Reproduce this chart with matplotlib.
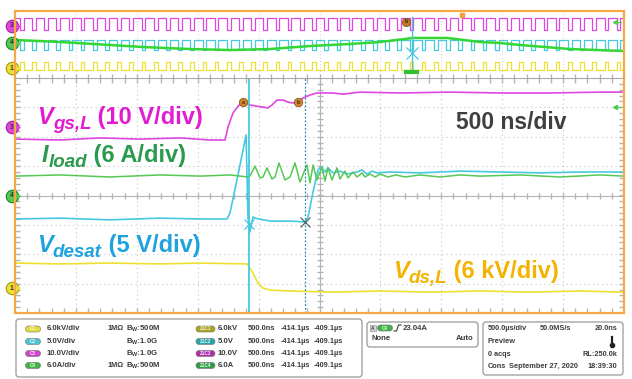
import numpy as np
import matplotlib.pyplot as plt
from matplotlib.patches import FancyBboxPatch, Rectangle

plt.rcParams['font.family'] = ['Liberation Sans', 'DejaVu Sans']
plt.rcParams['font.weight'] = 'bold'
plt.rcParams['mathtext.fontset'] = 'custom'
plt.rcParams['mathtext.rm'] = 'Liberation Sans:bold'
plt.rcParams['mathtext.it'] = 'Liberation Sans:italic:bold'
plt.rcParams['mathtext.bf'] = 'Liberation Sans:bold'

# zoom window, 500 ns/div, levels in screen divisions
vgs_t = [0, 369, 698, 1026, 1355, 1601, 1724, 1749, 1790, 1831, 1872, 1929, 1987,
         2036, 2077, 2110, 2151, 2200, 2241, 2282, 2323, 2364, 2422, 2479, 2611,
         2693, 2832, 3161, 3571, 3982, 4392, 4803, 5000]
vgs_div = [1.92, 1.89, 1.96, 1.92, 1.96, 1.89, 1.89, 2.33, 2.81, 3.04, 3.18, 3.08, 3.04,
           3.01, 2.98, 3.08, 3.25, 3.25, 3.18, 3.15, 3.18, 3.32, 3.42, 3.49, 3.49,
           3.45, 3.52, 3.49, 3.52, 3.49, 3.49, 3.52, 3.52]

iload_t = [0, 369, 780, 1191, 1519, 1765, 1913,
           1929, 1970, 2011, 2036, 2069, 2110, 2135, 2167, 2217, 2258,
           2299, 2340, 2373, 2397, 2422, 2447, 2479, 2521, 2545, 2570,
           2603, 2644, 2668, 2709, 2734, 2775, 2808, 2849, 2874, 2915,
           2956, 2997, 3062, 3128, 3202, 3325, 3489, 3654, 3818, 4146,
           4475, 4803, 5000]
iload_div = [0.66, 0.70, 0.63, 0.70, 0.66, 0.70, 0.63,
             0.66, 1.00, 0.60, 0.63, 0.94, 0.56, 0.63, 1.11, 0.53, 0.63,
             1.11, 0.46, 0.80, 1.04, 0.43, 1.04, 0.53, 0.97, 0.49, 0.94,
             0.53, 0.94, 0.56, 0.83, 0.60, 0.80, 0.63, 0.77, 0.63, 0.73,
             0.63, 0.73, 0.63, 0.70, 0.63, 0.70, 0.63, 0.70, 0.66, 0.70,
             0.63, 0.70, 0.66]

vdesat_t = [0, 369, 780, 1190, 1519, 1741, 1765, 1831, 1897, 1913, 1929, 1954, 1970,
            2094, 2258, 2381, 2406, 2447, 2488, 2512, 2545, 2570, 2611, 2668, 2726,
            2808, 2849, 2890, 2931, 2972, 3079, 3325, 3654, 3982, 4310, 4639, 5000]
vdesat_div = [-0.80, -0.77, -0.83, -0.77, -0.80, -0.80, -0.60, 0.70, 2.06, -0.77, -1.24,
              -0.73, -0.77, -0.87, -0.87, -0.90, -0.73, 0.12, 0.87, 0.97, 0.80, 0.94,
              0.77, 0.83, 0.73, 0.80, 0.87, 0.73, 0.83, 0.77, 0.80, 0.77, 0.83, 0.80,
              0.77, 0.80, 0.80]

vds_t = [0, 369, 780, 1190, 1519, 1905, 1954, 1995, 2036, 2094, 2258, 2586, 2997,
         3407, 3818, 4228, 4639, 5000]
vds_div = [-2.30, -2.33, -2.30, -2.33, -2.30, -2.33, -2.64, -2.98, -3.15, -3.22, -3.25,
           -3.29, -3.25, -3.29, -3.25, -3.29, -3.25, -3.29]

# cursors and a/b marks in the zoom window (ns)
cursor_a_ns = 1920
cursor_b_ns = 2380
mark_ab_t = [1872, 2323]
mark_ab_div = [3.18, 3.18]

# channel ground markers (div): Vgs, Iload, Vds
zoom_gnd = {'3': 2.33, '4': 0.0, '1': -3.15}
trig_level_div = 3.01

# record view, 500 us/div
rec_t = [0, 369, 780, 1051, 1437, 1765, 2094, 2422, 2750, 2997, 3268, 3547, 3818,
         3982, 4146, 4557, 5000]
rec_iload = [0.54, 0.30, -0.06, -0.30, -0.54, -0.66, -0.54, -0.18, 0.06, 0.30, 0.78,
             0.78, 0.30, 0.18, -0.06, -0.54, -0.78]
pwm_rise_us = [-30, 70, 170, 270, 370, 470, 570, 670, 770, 870,
               970, 1070, 1170, 1270, 1370, 1470, 1570, 1670, 1770, 1870,
               1970, 2070, 2170, 2270, 2370, 2470, 2570, 2670, 2770, 2870,
               2970, 3070, 3170, 3270, 3370, 3470, 3570, 3670, 3770, 3870,
               3970, 4070, 4170, 4270, 4370, 4470, 4570, 4670, 4770, 4870, 4970]
pwm_on_us = 70
rec_vgs_lvl = (1.73, 3.16)
rec_vdesat_lvl = (-0.66, 0.54)
rec_vds_lvl = (-3.04, -2.09)
rec_gnd = {'3': 2.21, '4': 0.18, '1': -2.81}
rec_zoom_us = 3259
rec_trig_us = 3670

# readout panel
chan_names = ['C1', 'C2', 'C3', 'C4']
chan_scale = ['6.0kV/div', '5.0V/div', '10.0V/div', '6.0A/div']
chan_term = ['1MΩ', '', '', '1MΩ']
chan_bw = ['500M', '1.0G', '1.0G', '500M']
zoom_names = ['Z1C1', 'Z1C2', 'Z1C3', 'Z1C4']
zoom_scale = ['6.0kV', '5.0V', '10.0V', '6.0A']
zoom_tdiv = '500.0ns'
zoom_pos = ['-414.1µs', '-409.1µs']

MAG, CYAN, GRN, YEL = '#E046E0', '#45C8E0', '#55C855', '#EEE030'
badge_col = ['#E4DC3A', '#4CC6D2', '#CF44CF', '#3FB43F']
badge_zcol = ['#ABA420', '#22A6A8', '#AE2EA8', '#2E9F40']
TXT = '#3C3C3C'

W, H = 632, 379
fig = plt.figure(figsize=(W / 100, H / 100), dpi=100)


def px_rect(x0, y0, x1, y1):
    return [x0 / W, 1 - y1 / H, (x1 - x0) / W, (y1 - y0) / H]


ax = fig.add_axes(px_rect(15, 78, 624, 313))
ax_rec = fig.add_axes(px_rect(15, 11, 624, 78))
ax_px = fig.add_axes([0, 0, 1, 1], zorder=5)
ax_px.set_xlim(0, W)
ax_px.set_ylim(H, 0)
ax_px.axis('off')
ax_px.patch.set_alpha(0)

GRID = '#C4C4C4'


def marker(a, x, y, num, col, edge, dx):
    a.plot([x], [y], 'o', ms=9, mfc=col, mec=edge, mew=0.8, clip_on=False, zorder=6)
    a.text(x, y, num, fontsize=5, ha='center', va='center', color='#333333',
           zorder=7, clip_on=False)
    a.plot([x + dx * 0.9, x + dx * 2.0], [y, y], color=col, lw=0.8, clip_on=False, zorder=6)
    a.plot([x + dx * 2.0], [y], '>', ms=2.5, color=col, clip_on=False, zorder=6)


# ---- zoom window ----
ax.set_xlim(0, 5000)
ax.set_ylim(-4, 4)
ax.axis('off')
for i in range(1, 10):
    if i != 5:
        ax.axvline(i * 500, color=GRID, lw=0.8, ls=(0, (1, 3)))
for j in range(-3, 4):
    if j != 0:
        ax.axhline(j, color=GRID, lw=0.8, ls=(0, (1, 3)))
ax.axvline(2500, color='#B4B4B4', lw=0.8)
ax.axhline(0, color='#B4B4B4', lw=0.8)
tx = np.arange(100, 5000, 100)
ty = np.arange(-3.8, 4.0, 0.2)
ax.plot(tx, np.zeros_like(tx), '|', ms=4, color='#B4B4B4')
ax.plot(np.full_like(ty, 2500), ty, '_', ms=4, color='#B4B4B4')
ax.plot(tx, np.full_like(tx, -4.0), '|', ms=7, color='#B4B4B4')
ax.plot(tx, np.full_like(tx, 4.0), '|', ms=7, color='#B4B4B4')
ax.plot(np.zeros_like(ty), ty, '_', ms=7, color='#B4B4B4')
ax.plot(np.full_like(ty, 5000), ty, '_', ms=7, color='#B4B4B4')

ax.axvline(cursor_a_ns, color=CYAN, lw=1.3, zorder=4)
ax.axvline(cursor_b_ns, color='#2B8CA8', lw=0.9, ls=(0, (1.5, 1.5)), zorder=4)

ax.plot(vds_t, vds_div, color=YEL, lw=1.2, zorder=3)
ax.plot(vgs_t, vgs_div, color=MAG, lw=1.2, zorder=3)
ax.plot(vdesat_t, vdesat_div, color=CYAN, lw=1.2, zorder=3)
ax.plot(iload_t, iload_div, color=GRN, lw=1.1, zorder=3)

ax.plot([cursor_a_ns], [np.interp(cursor_a_ns, vdesat_t, vdesat_div)], 'x', ms=7,
        mew=0.9, color=CYAN, zorder=5)
ax.plot([cursor_b_ns], [np.interp(cursor_b_ns, vdesat_t, vdesat_div)], 'x', ms=7,
        mew=0.9, color='#4A6A70', zorder=5)
for t, v, s in zip(mark_ab_t, mark_ab_div, 'ab'):
    ax.plot([t], [v], 'o', ms=6, mfc='#D2872E', mec='#8A5620', mew=0.6, zorder=6)
    ax.text(t, v, s, fontsize=4, ha='center', va='center', color='#4A2800', zorder=7)

marker(ax, -25, zoom_gnd['3'], '3', MAG, '#A020A0', 25)
marker(ax, -25, zoom_gnd['4'], '4', GRN, '#208020', 25)
marker(ax, -25, zoom_gnd['1'], '1', YEL, '#A09A10', 25)
ax.plot([4930, 4975], [trig_level_div, trig_level_div], color=GRN, lw=0.8, clip_on=False)
ax.plot([4930], [trig_level_div], '<', ms=3, color=GRN, clip_on=False)

# ---- record view ----
ax_rec.set_xlim(0, 5000)
ax_rec.set_ylim(-4, 4)
ax_rec.axis('off')
for i in range(1, 10):
    ax_rec.axvline(i * 500, color=GRID, lw=0.6, ls=(0, (1, 3)))
rx = np.arange(100, 5000, 100)
ax_rec.plot(rx, np.full_like(rx, -4.0), '|', ms=6, color='#B4B4B4')


def pwm(low, high):
    t, v = [], []
    for r in pwm_rise_us:
        t += [r, r, r + pwm_on_us, r + pwm_on_us]
        v += [low, high, high, low]
    return t, v


t_on, v_mag = pwm(*rec_vgs_lvl)
_, v_cy = pwm(*rec_vdesat_lvl)
_, v_yl = pwm(rec_vds_lvl[1], rec_vds_lvl[0])
ax_rec.plot(t_on, v_mag, color=MAG, lw=0.9)
ax_rec.plot(t_on, v_cy, color=CYAN, lw=0.9)
ax_rec.plot(t_on, v_yl, color=YEL, lw=0.9)
ax_rec.plot(rec_t, rec_iload, color='#33D633', lw=1.8)

ax_rec.plot([rec_zoom_us, rec_zoom_us], [-3.28, 3.28], color=CYAN, lw=1.0)
ax_rec.plot([rec_zoom_us], [-1.0], 'x', ms=9, mew=0.9, color=CYAN)
ax_rec.plot([rec_zoom_us - 45, rec_zoom_us + 45], [-3.3, -3.3], color='#30C030', lw=3)
ax_rec.plot([rec_trig_us], [3.55], 's', ms=3, color='#F0A040', clip_on=False)
ax_rec.plot([rec_zoom_us - 50], [2.69], 'o', ms=6, mfc='#C07A28', mec='#7A4A18', mew=0.5)
ax_rec.text(rec_zoom_us - 50, 2.69, 'b', fontsize=4, ha='center', va='center', color='#3A2000')

marker(ax_rec, -25, rec_gnd['3'], '3', MAG, '#A020A0', 25)
marker(ax_rec, -25, rec_gnd['4'], '4', GRN, '#208020', 25)
marker(ax_rec, -25, rec_gnd['1'], '1', YEL, '#A09A10', 25)
ax_rec.plot([4930, 4975], [2.69, 2.69], color=GRN, lw=0.8, clip_on=False)
ax_rec.plot([4930], [2.69], '<', ms=3, color=GRN, clip_on=False)

# ---- screen frame ----
ax_px.add_patch(Rectangle((15, 11), 609, 302, fill=False, ec='#F5A843', lw=1.6))
ax_px.plot([15, 624], [78, 78], color='#A8A8A8', lw=0.8)

# ---- trace labels, subscripts set a bit larger than mathtext would ----
renderer = fig.canvas.get_renderer()


def trace_label(x, y, sym, sub, rest, color):
    for s, size, style, dy in [(sym, 17, 'italic', 0), (sub, 13.5, 'italic', 5),
                               (rest, 17, 'normal', 0)]:
        t = ax_px.text(x, y + dy, s, fontsize=size, style=style, color=color,
                       va='baseline', zorder=8)
        x += t.get_window_extent(renderer).width


trace_label(37, 124, 'V', 'gs,L', ' (10 V/div)', '#E21CD2')
trace_label(42, 162, 'I', 'load', ' (6 A/div)', '#2A9A4E')
trace_label(37, 252, 'V', 'desat', ' (5 V/div)', '#1FA3DC')
trace_label(393, 278, 'V', 'ds,L', ' (6 kV/div)', '#F3B300')
ax_px.text(456, 129, '500 ns/div', fontsize=16.5, color='#3F3F3F', va='baseline', zorder=8)

# ---- readout panel ----
def box(x0, y0, x1, y1):
    ax_px.add_patch(FancyBboxPatch((x0, y0), x1 - x0, y1 - y0,
                                   boxstyle='round,pad=0,rounding_size=3',
                                   fc='white', ec='#9A9A9A', lw=0.9))


def badge(xc, yc, w, label, col):
    ax_px.add_patch(FancyBboxPatch((xc - w / 2, yc - 3), w, 6,
                                   boxstyle='round,pad=0,rounding_size=3',
                                   fc=col, ec='#707070', lw=0.4))
    ax_px.text(xc, yc, label, fontsize=3.3, ha='center', va='center', color='#F4F4F4')


box(16, 319, 362, 377)
box(367, 322, 478, 347)
box(483, 322, 623, 375)

FS = 5.6
rows = [329, 341.5, 353.5, 365.5]
for k, y in enumerate(rows):
    badge(33, y, 15, chan_names[k], badge_col[k])
    ax_px.text(47, y, chan_scale[k], fontsize=FS, va='center', color=TXT)
    if chan_term[k]:
        ax_px.text(107, y, chan_term[k], fontsize=FS - 0.3, va='center', color=TXT)
    ax_px.text(126, y, r'$\mathrm{B_W}$:' + chan_bw[k], fontsize=FS, va='center', color=TXT)
    badge(205.5, y, 19, zoom_names[k], badge_zcol[k])
    ax_px.text(218, y, zoom_scale[k], fontsize=FS, va='center', color=TXT)
    ax_px.text(248, y, zoom_tdiv, fontsize=FS - 0.2, va='center', color=TXT)
    ax_px.text(281, y, zoom_pos[0], fontsize=FS - 0.3, va='center', color=TXT)
    ax_px.text(314, y, zoom_pos[1], fontsize=FS - 0.3, va='center', color=TXT)

# trigger box
ax_px.add_patch(Rectangle((370, 325), 6, 6, fc='#D8D8D8', ec='#808080', lw=0.4))
ax_px.text(373, 328, 'A', fontsize=3.5, ha='center', va='center', color=TXT)
badge(385, 328, 15, 'C4', badge_col[3])
ax_px.plot([394, 396.5, 398.5, 401], [331, 331, 325, 325], color=TXT, lw=0.8)
ax_px.text(403, 328, '23.04A', fontsize=FS, va='center', color=TXT)
ax_px.text(372, 339, 'None', fontsize=FS, va='center', color=TXT)
ax_px.text(473, 339, 'Auto', fontsize=FS, va='center', ha='right', color=TXT)

# acquisition box
FS3 = 5.3
rows3 = [328, 341.5, 354, 366.5]
ax_px.text(488, rows3[0], '500.0µs/div', fontsize=FS3, va='center', color=TXT)
ax_px.text(540, rows3[0], '50.0MS/s', fontsize=FS3, va='center', color=TXT)
ax_px.text(617, rows3[0], '20.0ns', fontsize=FS3, va='center', ha='right', color=TXT)
ax_px.text(488, rows3[1], 'Preview', fontsize=FS3, va='center', color=TXT)
ax_px.plot([612, 612], [337, 344], color='#222222', lw=1.6)
ax_px.plot([612], [345], 'o', ms=3, color='#222222')
ax_px.text(488, rows3[2], '0 acqs', fontsize=FS3, va='center', color=TXT)
ax_px.text(617, rows3[2], 'RL:250.0k', fontsize=FS3, va='center', ha='right', color=TXT)
ax_px.text(488, rows3[3], 'Cons', fontsize=FS3, va='center', color=TXT)
ax_px.text(509, rows3[3], 'September 27, 2020', fontsize=FS3, va='center', color=TXT)
ax_px.text(617, rows3[3], '18:39:30', fontsize=FS3, va='center', ha='right', color=TXT)

fig.savefig('out.png', dpi=100)
